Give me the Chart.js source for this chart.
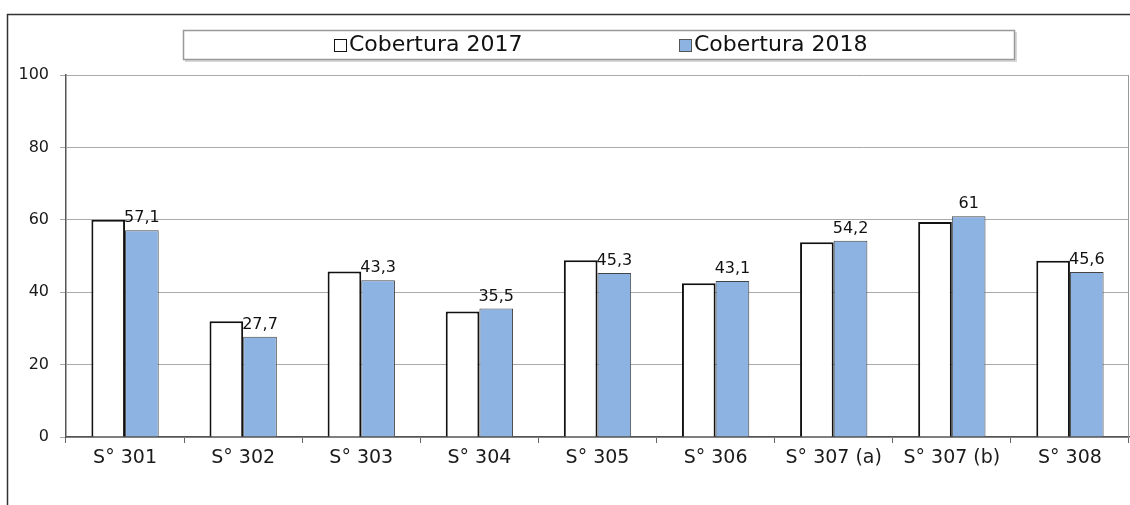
<!DOCTYPE html>
<html>
<head>
<meta charset="utf-8">
<script src="https://cdn.jsdelivr.net/npm/chart.js@4/dist/chart.umd.min.js"></script>
<style>
html,body{margin:0;padding:0;background:#fff;}
#wrap{position:relative;width:1130px;height:505px;}
</style>
</head>
<body>
<div id="wrap"><canvas id="c" width="1130" height="505"></canvas></div>
<script>
const categories = ['S\u00B0 301','S\u00B0 302','S\u00B0 303','S\u00B0 304','S\u00B0 305','S\u00B0 306','S\u00B0 307 (a)','S\u00B0 307 (b)','S\u00B0 308'];
const seriesNames = ['Cobertura 2017','Cobertura 2018'];
const cobertura2017 = [60, 32, 45.7, 34.7, 48.8, 42.5, 53.8, 59.4, 48.7];
const cobertura2018 = [57.1, 27.7, 43.3, 35.5, 45.3, 43.1, 54.2, 61, 45.6];
const yTicks = [0, 20, 40, 60, 80, 100];

const FONT = "'DejaVu Sans', sans-serif";

const framePlugin = {
  id: 'frame',
  beforeDraw(chart) {
    const ctx = chart.ctx;
    ctx.save();
    ctx.fillStyle = '#fff';
    ctx.fillRect(0, 0, chart.width, chart.height);
    ctx.strokeStyle = '#333';
    ctx.lineWidth = 1.5;
    ctx.beginPath();
    ctx.moveTo(7.5, chart.height);
    ctx.lineTo(7.5, 14.5);
    ctx.lineTo(chart.width, 14.5);
    ctx.stroke();
    ctx.restore();
  },
  afterDraw(chart) {
    const ctx = chart.ctx;
    const a = chart.chartArea;
    ctx.save();
    ctx.strokeStyle = '#999';
    ctx.lineWidth = 1;
    ctx.beginPath();
    ctx.moveTo(Math.round(a.right) - 0.5, a.top);
    ctx.lineTo(Math.round(a.right) - 0.5, a.bottom);
    ctx.stroke();
    ctx.fillStyle = '#d8d8d8';
    ctx.fillRect(185, 32, 832, 30);
    ctx.fillStyle = '#fff';
    ctx.fillRect(183, 30, 832, 30);
    ctx.strokeStyle = '#999';
    ctx.lineWidth = 1.5;
    ctx.strokeRect(183.5, 30.5, 831, 29);
    const xs = [334, 679];
    ctx.font = '22px ' + FONT;
    ctx.textBaseline = 'middle';
    ctx.textAlign = 'left';
    chart.data.datasets.forEach((ds, i) => {
      ctx.fillStyle = ds.backgroundColor;
      ctx.fillRect(xs[i] + 0.5, 39.5, 12, 12);
      ctx.strokeStyle = i === 0 ? '#111' : '#555';
      ctx.lineWidth = 1;
      ctx.strokeRect(xs[i] + 0.5, 39.5, 12, 12);
      ctx.fillStyle = '#111';
      ctx.fillText(ds.label, xs[i] + 15, 45);
    });
    ctx.restore();
  }
};

const labelPlugin = {
  id: 'vals',
  afterDatasetsDraw(chart) {
    const ctx = chart.ctx;
    const meta = chart.getDatasetMeta(1);
    ctx.save();
    ctx.font = '16px ' + FONT;
    ctx.fillStyle = '#111';
    ctx.textAlign = 'center';
    ctx.textBaseline = 'bottom';
    meta.data.forEach((bar, i) => {
      const v = chart.data.datasets[1].data[i];
      ctx.fillText(String(v).replace('.', ','), bar.x, bar.y - 4);
    });
    ctx.restore();
  }
};

new Chart(document.getElementById('c'), {
  type: 'bar',
  data: {
    labels: categories,
    datasets: [
      { label: seriesNames[0], data: cobertura2017, backgroundColor: '#ffffff', borderColor: '#111', borderWidth: 2 },
      { label: seriesNames[1], data: cobertura2018, backgroundColor: '#8DB3E2', borderColor: '#444', borderWidth: 1 }
    ]
  },
  options: {
    responsive: false,
    animation: false,
    devicePixelRatio: 1,
    layout: { padding: { top: 75, right: 1, left: 0, bottom: 0 } },
    datasets: { bar: { categoryPercentage: 0.57, barPercentage: 1 } },
    plugins: { legend: { display: false }, tooltip: { enabled: false } },
    scales: {
      x: {
        grid: { offset: true, drawOnChartArea: false, tickLength: 6, color: '#666', lineWidth: 1 },
        border: { color: '#555', width: 1.5 },
        ticks: { font: { family: FONT, size: 19 }, color: '#1a1a1a', padding: 4, maxRotation: 0, autoSkip: false },
        afterFit(s) { s.height = 68; }
      },
      y: {
        min: 0, max: 100,
        afterBuildTicks(s) { s.ticks = yTicks.map(v => ({ value: v })); },
        grid: { color: '#aaa', lineWidth: 1, tickLength: 6 },
        border: { color: '#555', width: 1.5 },
        ticks: { font: { family: FONT, size: 16 }, color: '#1a1a1a', padding: 11 },
        afterFit(s) { s.width = 66; }
      }
    }
  },
  plugins: [framePlugin, labelPlugin]
});
</script>
</body>
</html>
